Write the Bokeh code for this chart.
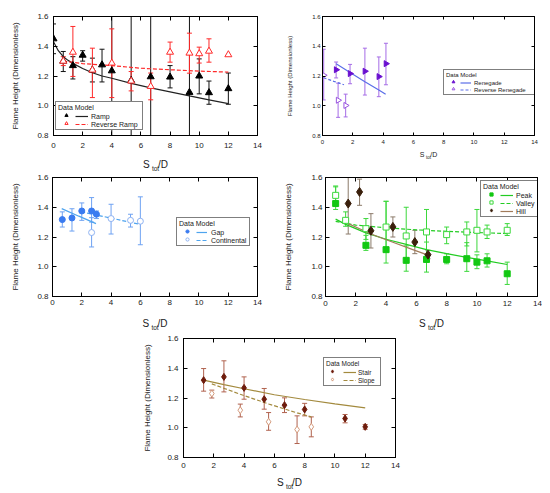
import numpy as np
from bokeh.plotting import figure
from bokeh.models import (Range1d, LinearAxis, FixedTicker, CustomJSTickFormatter,
                          NumeralTickFormatter, Legend, LegendItem,
                          ColumnDataSource, Spacer)
from bokeh.layouts import column, row
from bokeh.embed import file_html
from bokeh.resources import INLINE

FONT = "Liberation Sans"
X_TICKS = [0, 2, 4, 6, 8, 10, 12, 14]
Y_TICKS = [0.8, 1.0, 1.2, 1.4, 1.6]
Y_LABEL = "Flame Height (Dimensionless)"
X_LABEL_MAIN = "S\u00a0\u00a0\u00a0/D"
X_LABEL_SUB = "tot"
LEGEND_TITLE = "Data Model"
NAN = float("nan")

# ---------------- Panel 1: Ramp / Reverse Ramp ----------------
ramp_x = [0, 0.67, 1.33, 2, 2.67, 3.33, 4, 5.33, 6.67, 8, 9.33, 10, 10.67, 12]
ramp_y = [1.45, 1.30, 1.27, 1.34, 1.24, 1.275, 1.235, 1.17, 1.195, 1.193, 1.09, 1.20, 1.088, 1.115]
ramp_lo = [1.35, 1.23, 1.18, 1.30, 1.16, 1.16, 0.40, 0.40, 0.40, 1.12, 0.40, 1.08, 1.01, 1.01]
ramp_hi = [1.55, 1.365, 1.33, 1.37, 1.32, 1.38, 2.00, 2.00, 2.00, 1.27, 2.00, 1.315, 1.166, 1.22]
rramp_x = [0.67, 1.33, 2.67, 4, 5.33, 6.67, 8, 9.33, 10, 10.67, 12]
rramp_y = [1.30, 1.36, 1.24, 1.287, 1.166, 1.13, 1.36, 1.354, 1.35, 1.367, 1.343]
rramp_lo = [1.27, 1.197, 1.055, 1.055, 1.10, 1.04, 1.293, 1.219, 1.287, 1.293, NAN]
rramp_hi = [1.33, 1.533, 1.387, 1.517, 1.23, 1.22, 1.428, 1.488, 1.394, 1.45, NAN]
ramp_fit_x = [0, 0.33, 0.67, 1, 1.33, 2, 2.67, 3.33, 4, 5.33, 6.67, 8, 9.33, 10.67, 12]
ramp_fit_y = [1.43, 1.37, 1.33, 1.305, 1.285, 1.25, 1.222, 1.20, 1.185, 1.15, 1.12, 1.093, 1.066, 1.04, 1.014]
rramp_fit_x = [0.67, 2, 4, 6, 8, 10, 12]
rramp_fit_y = [1.30, 1.283, 1.27, 1.252, 1.242, 1.233, 1.226]

# ---------------- Panel 2: Renegade / Reverse Renegade ----------------
ren_x = [0.9, 1.82, 2.8, 3.72, 4.19]
ren_y = [1.242, 1.216, 1.232, 1.196, 1.283]
ren_lo = [1.187, 1.148, 1.072, 1.061, 1.141]
ren_hi = [1.294, 1.278, 1.387, 1.328, 1.42]
rren_x = [0.08, 1.03, 1.53]
rren_y = [1.205, 1.037, 1.002]
rren_lo = [1.039, 0.922, 0.925]
rren_hi = [1.38, 1.152, 1.078]
ren_fit_x = [0.9, 1.82, 2.8, 3.72, 4.17]
ren_fit_y = [1.282, 1.224, 1.162, 1.106, 1.077]
rren_fit_x = [0.07, 0.75, 1.42]
rren_fit_y = [1.188, 1.164, 1.141]

# ---------------- Panel 3: Gap / Continental ----------------
gap_x = [0.67, 1.33, 2, 2.67, 3]
gap_y = [1.317, 1.328, 1.375, 1.375, 1.353]
gap_lo = [1.267, 1.24, 1.312, 1.30, 1.324]
gap_hi = [1.369, 1.39, 1.429, 1.465, 1.375]
cont_x = [2.67, 4, 5.33, 6]
cont_y = [1.23, 1.324, 1.312, 1.306]
cont_lo = [1.133, 1.22, 1.267, 1.148]
cont_hi = [1.33, 1.42, 1.353, 1.47]
gap_fit_x = [0.63, 1.8, 2.97]
gap_fit_y = [1.391, 1.34, 1.29]
cont_fit_x = [1.96, 4, 5.96]
cont_fit_y = [1.369, 1.327, 1.285]

# ---------------- Panel 4: Peak / Valley / Hill ----------------
peak_x = [0.67, 2.67, 4, 5.33, 6.67, 8, 9.33, 10, 10.67, 12]
peak_y = [1.425, 1.144, 1.115, 1.043, 1.049, 1.049, 1.054, 1.031, 1.04, 0.953]
peak_lo = [1.385, 1.11, 1.025, 0.97, 0.964, 1.02, 0.969, 0.987, 0.998, 0.881]
peak_hi = [1.537, 1.211, 1.44, 1.14, 1.166, 1.087, 1.162, 1.08, 1.087, 1.031]
valley_x = [0.67, 1.33, 2.67, 4, 5.33, 6.67, 8, 9.33, 10, 10.67, 12]
valley_y = [1.48, 1.312, 1.256, 1.267, 1.207, 1.234, 1.216, 1.234, 1.245, 1.234, 1.245]
valley_lo = [1.43, 1.272, 1.184, 1.121, 1.05, 1.08, 1.155, 1.14, 1.10, 1.19, 1.21]
valley_hi = [1.543, 1.369, 1.324, 1.44, 1.40, 1.385, 1.267, 1.301, 1.385, 1.28, 1.29]
hill_x = [1.5, 2.25, 3.0, 4.45, 5.9, 6.77]
hill_y = [1.425, 1.503, 1.242, 1.268, 1.166, 1.081]
hill_lo = [1.22, 1.413, 1.126, 1.2, 1.088, 1.054]
hill_hi = [1.65, 1.589, 1.357, 1.335, 1.245, 1.11]
peak_fit_x = [0.67, 1.33, 2.67, 4, 5.33, 6.67, 8, 9.33, 10.67, 12]
peak_fit_y = [1.32, 1.285, 1.228, 1.185, 1.15, 1.115, 1.088, 1.063, 1.04, 1.015]
valley_fit_x = [0.67, 2, 4, 6, 8, 10, 12]
valley_fit_y = [1.305, 1.28, 1.262, 1.248, 1.238, 1.23, 1.223]
hill_fit_x = [1.5, 2.25, 3.0, 4.45, 5.9, 6.77]
hill_fit_y = [1.29, 1.255, 1.22, 1.165, 1.11, 1.078]

# ---------------- Panel 5: Stair / Slope ----------------
stair_x = [1.33, 2.67, 4, 5.33, 6.67, 8, 10.67, 12]
stair_y = [1.32, 1.342, 1.268, 1.192, 1.152, 1.123, 1.062, 1.006]
stair_lo = [1.246, 1.241, 1.192, 1.125, 1.102, 1.08, 1.033, 0.99]
stair_hi = [1.398, 1.45, 1.342, 1.264, 1.201, 1.164, 1.089, 1.022]
slope_x = [1.87, 3.75, 5.62, 7.5, 8.44]
slope_y = [1.23, 1.118, 1.04, 0.988, 1.006]
slope_lo = [1.2, 1.073, 0.983, 0.894, 0.939]
slope_hi = [1.253, 1.159, 1.102, 1.08, 1.073]
stair_fit_x = [1.33, 2.67, 4, 6, 8, 10, 12]
stair_fit_y = [1.32, 1.29, 1.262, 1.222, 1.19, 1.16, 1.133]
slope_fit_x = [1.87, 3.75, 5.62, 7.5, 8.44]
slope_fit_y = [1.295, 1.225, 1.16, 1.10, 1.073]

BLANK = CustomJSTickFormatter(code="return ''")


def style_axis(a, fs, standoff, tick_len):
    a.major_tick_in = tick_len
    a.major_tick_out = 0
    a.minor_tick_in = 0
    a.minor_tick_out = 0
    a.axis_line_color = "black"
    a.major_tick_line_color = "black"
    a.major_label_text_font = FONT
    a.major_label_text_font_size = fs
    a.major_label_text_color = "#222222"
    a.major_label_standoff = standoff


def label_style(a, fs, standoff):
    a.axis_label_text_font = FONT
    a.axis_label_text_font_size = fs
    a.axis_label_text_font_style = "normal"
    a.axis_label_text_color = "#222222"
    a.axis_label_standoff = standoff


def make_fig(w, h, bl, br, bt, bb, tick_fs, ylab_fs, ylab_standoff,
             ytick_standoff, xtick_standoff, xl_big, xl_small, xl_standoff, xl_sub_standoff,
             tick_len=4):
    p = figure(width=w, height=h, x_range=Range1d(0, 14), y_range=Range1d(0.8, 1.6),
               x_axis_type=None, y_axis_type=None, output_backend="svg",
               toolbar_location=None, min_border_left=bl, min_border_right=br,
               min_border_top=bt, min_border_bottom=bb)
    p.outline_line_color = "black"
    p.outline_line_width = 1
    # bottom axis with the main part of the x label
    xb = LinearAxis(ticker=FixedTicker(ticks=X_TICKS, minor_ticks=[]), axis_label=X_LABEL_MAIN)
    style_axis(xb, tick_fs, xtick_standoff, tick_len)
    label_style(xb, xl_big, xl_standoff)
    p.add_layout(xb, "below")
    # tickless axis carrying the subscript of the x label
    xs = LinearAxis(ticker=FixedTicker(ticks=[], minor_ticks=[]), axis_label=X_LABEL_SUB,
                    formatter=BLANK)
    xs.axis_line_color = None
    xs.major_tick_line_color = None
    xs.minor_tick_line_color = None
    xs.major_tick_in = 0
    xs.major_tick_out = 0
    xs.minor_tick_in = 0
    xs.minor_tick_out = 0
    xs.major_label_text_font_size = "2px"
    xs.major_label_standoff = 0
    label_style(xs, xl_small, xl_sub_standoff)
    p.add_layout(xs, "below")
    # left axis
    yl = LinearAxis(ticker=FixedTicker(ticks=Y_TICKS, minor_ticks=[]),
                    formatter=NumeralTickFormatter(format="0.0"), axis_label=Y_LABEL)
    style_axis(yl, tick_fs, ytick_standoff, tick_len)
    label_style(yl, ylab_fs, ylab_standoff)
    p.add_layout(yl, "left")
    # mirrored tick axes
    xt = LinearAxis(ticker=FixedTicker(ticks=X_TICKS, minor_ticks=[]), formatter=BLANK)
    style_axis(xt, "2px", 0, tick_len)
    p.add_layout(xt, "above")
    yr = LinearAxis(ticker=FixedTicker(ticks=Y_TICKS, minor_ticks=[]), formatter=BLANK)
    style_axis(yr, "2px", 0, tick_len)
    p.add_layout(yr, "right")
    return p


def errors(p, x, lo, hi, color, cap=5):
    src = ColumnDataSource(dict(x=np.array(x, float), lo=np.array(lo, float), hi=np.array(hi, float)))
    p.segment(x0="x", y0="lo", x1="x", y1="hi", source=src, line_color=color, line_width=1)
    p.scatter(x="x", y="lo", source=src, marker="dash", size=cap, line_color=color, line_width=1)
    p.scatter(x="x", y="hi", source=src, marker="dash", size=cap, line_color=color, line_width=1)


def points(p, x, y, marker, size, fill, line, angle=0.0):
    src = ColumnDataSource(dict(x=x, y=y))
    return p.scatter(x="x", y="y", source=src, marker=marker, size=size, fill_color=fill,
                     line_color=line, line_width=1, angle=angle)


def fit(p, x, y, color, dash="solid", width=1.2):
    return p.line(x=x, y=y, line_color=color, line_width=width, line_dash=dash)


def add_legend(p, mark_rs, line_rs, labels, vx, vy, box_w, pad, mark_w, gap, line_w,
               standoff, fs, pitch):
    common = dict(padding=pad, spacing=0, glyph_height=pitch, label_height=pitch, margin=0,
                  label_text_font=FONT, label_text_font_size=fs, label_text_color="#222222")
    A = Legend(items=[LegendItem(label="", renderers=[r]) for r in mark_rs],
               location=(vx, vy), title=LEGEND_TITLE, title_text_font=FONT,
               title_text_font_size=fs, title_text_font_style="normal", title_standoff=0,
               title_text_color="#222222", glyph_width=mark_w, label_standoff=0,
               label_width=box_w - 2 * pad - mark_w, border_line_color="black",
               border_line_width=1, background_fill_color="white",
               background_fill_alpha=1.0, **common)
    B = Legend(items=[LegendItem(label=l, renderers=[r]) for l, r in zip(labels, line_rs)],
               location=(vx + mark_w + gap, vy), glyph_width=line_w, label_standoff=standoff,
               border_line_alpha=0, background_fill_alpha=0, **common)
    p.add_layout(A)
    p.add_layout(B)


TRI_RIGHT = -np.pi / 2

# ---------------- Panel 1 ----------------
p1 = make_fig(272, 166, 40, 23, 8, 39, "8px", "8px", 14, 5, 7, "10px", "6.5px", 8, -8)
errors(p1, ramp_x, ramp_lo, ramp_hi, "#111111")
errors(p1, rramp_x, rramp_lo, rramp_hi, "#FF2A2A")
l1a = fit(p1, ramp_fit_x, ramp_fit_y, "#222222")
l1b = fit(p1, rramp_fit_x, rramp_fit_y, "#FF2A2A", dash="4 2")
m1a = points(p1, ramp_x, ramp_y, "triangle", 7, "black", "black")
m1b = points(p1, rramp_x, rramp_y, "triangle", 7, "white", "#FF2A2A")
add_legend(p1, [m1a, m1b], [l1a, l1b], ["Ramp", "Reverse Ramp"], vx=2, vy=5, box_w=86,
           pad=2, mark_w=16, gap=2, line_w=13, standoff=3, fs="7px", pitch=8)

# ---------------- Panel 2 ----------------
p2 = make_fig(262, 166, 42, 8, 8, 36, "6px", "6px", 16, 2, 4, "7px", "4.5px", 4, -6,
              tick_len=3)
errors(p2, ren_x, ren_lo, ren_hi, "#A56CE6", cap=4)
errors(p2, rren_x, rren_lo, rren_hi, "#A56CE6", cap=4)
l2a = fit(p2, ren_fit_x, ren_fit_y, "#5B6EE8")
l2b = fit(p2, rren_fit_x, rren_fit_y, "#5B6EE8", dash="3 2")
m2a = points(p2, ren_x, ren_y, "triangle", 6, "#6A0FD0", "#6A0FD0", angle=TRI_RIGHT)
m2b = points(p2, rren_x, rren_y, "triangle", 6, "white", "#9A55E0", angle=TRI_RIGHT)
add_legend(p2, [m2a, m2b], [l2a, l2b], ["Renegade", "Reverse Renegade"], vx=121, vy=40,
           box_w=92, pad=2, mark_w=14, gap=1, line_w=11, standoff=3, fs="6px", pitch=7)

# ---------------- Panel 3 ----------------
p3 = make_fig(272, 159, 40, 23, 3, 37, "8px", "8px", 14, 4, 3, "10px", "6.5px", 10, -8)
errors(p3, gap_x, gap_lo, gap_hi, "#6EA2F2")
errors(p3, cont_x, cont_lo, cont_hi, "#6EA2F2")
l3a = fit(p3, gap_fit_x, gap_fit_y, "#4EA4EE")
l3b = fit(p3, cont_fit_x, cont_fit_y, "#4EA4EE", dash="4 2")
m3a = points(p3, gap_x, gap_y, "circle", 6, "#3A7BF0", "#3A7BF0")
m3b = points(p3, cont_x, cont_y, "circle", 6, "white", "#8FB3F2")
add_legend(p3, [m3a, m3b], [l3a, l3b], ["Gap", "Continental"], vx=124, vy=50, box_w=72,
           pad=2, mark_w=16, gap=2, line_w=11, standoff=4, fs="7px", pitch=8)

# ---------------- Panel 4 ----------------
p4 = make_fig(262, 159, 45, 5, 3, 37, "8px", "8px", 15, 3, 4, "10px", "6.5px", 9, -8)
errors(p4, peak_x, peak_lo, peak_hi, "#3CD83C")
errors(p4, valley_x, valley_lo, valley_hi, "#3CD83C")
errors(p4, hill_x, hill_lo, hill_hi, "#8C7B6A")
l4a = fit(p4, peak_fit_x, peak_fit_y, "#22CC22")
l4b = fit(p4, valley_fit_x, valley_fit_y, "#22CC22", dash="4 2")
l4c = fit(p4, hill_fit_x, hill_fit_y, "#A27B5A")
m4a = points(p4, peak_x, peak_y, "square", 6, "#12C812", "#12C812")
m4b = points(p4, valley_x, valley_y, "square", 6, "white", "#3CD83C")
m4c = points(p4, hill_x, hill_y, "diamond", 9, "#3A1F0B", "#3A1F0B")
add_legend(p4, [m4a, m4b, m4c], [l4a, l4b, l4c], ["Peak", "Valley", "Hill"], vx=155, vy=79,
           box_w=58, pad=2, mark_w=16, gap=2, line_w=13, standoff=3, fs="7px", pitch=8)

# ---------------- Panel 5 ----------------
p5 = make_fig(270, 159, 43, 15, 5, 35, "8px", "8px", 12, 5, 5, "10px", "6.5px", 6, -8)
errors(p5, stair_x, stair_lo, stair_hi, "#B0624E")
errors(p5, slope_x, slope_lo, slope_hi, "#B0624E")
l5a = fit(p5, stair_fit_x, stair_fit_y, "#A38A3E")
l5b = fit(p5, slope_fit_x, slope_fit_y, "#A38A3E", dash="4 2")
m5a = points(p5, stair_x, stair_y, "diamond", 7, "#6E1C0C", "#6E1C0C")
m5b = points(p5, slope_x, slope_y, "diamond", 7, "white", "#D49A7C")
add_legend(p5, [m5a, m5b], [l5a, l5b], ["Stair", "Slope"], vx=140, vy=71, box_w=56,
           pad=2, mark_w=12, gap=6, line_w=13, standoff=2, fs="6.5px", pitch=8)

grid = column(row(p1, p2), row(p3, p4), row(Spacer(width=132, height=159), p5))
layout = column(Spacer(width=8, height=8), row(Spacer(width=8, height=8), grid))
open("out.html", "w").write(file_html(layout, INLINE))
